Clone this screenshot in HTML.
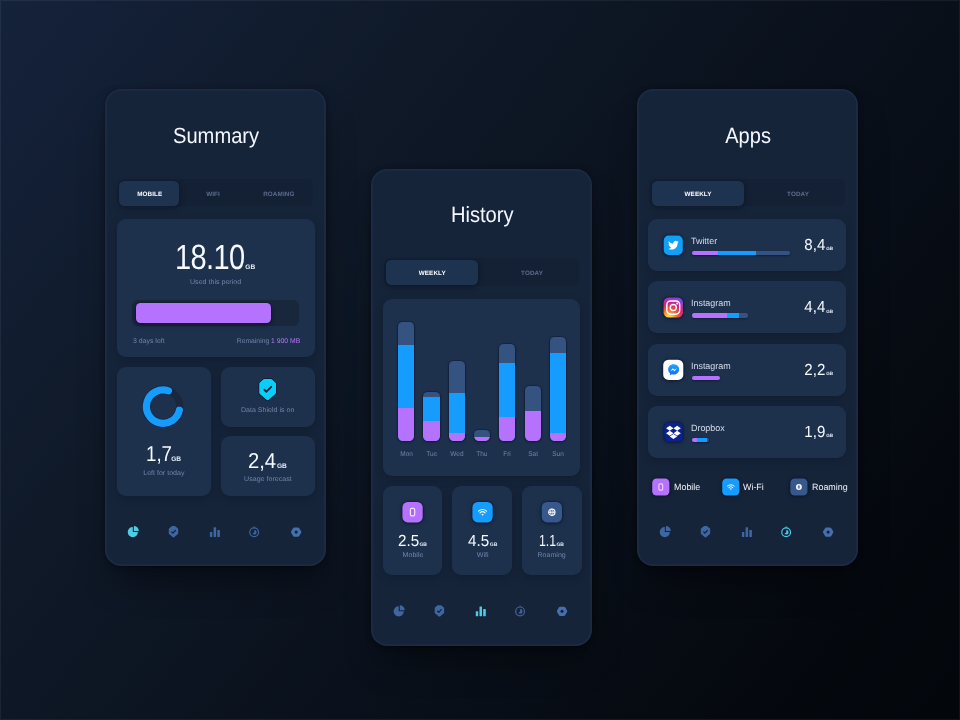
<!DOCTYPE html>
<html lang="en">
<head>
<meta charset="utf-8">
<title>Data usage</title>
<style>
*{box-sizing:border-box;margin:0;padding:0}
html,body{width:960px;height:720px;overflow:hidden}
body{position:relative;font-family:"Liberation Sans",Arial,sans-serif;color:#fff;text-rendering:geometricPrecision;
 background:linear-gradient(128deg,#15223b 0%,#0f1928 30%,#0a111c 58%,#05090f 85%,#03060b 100%)}
body::after{content:"";position:absolute;left:0;top:0;width:960px;height:720px;box-shadow:inset 0 0 0 1px rgba(255,255,255,.06);pointer-events:none}
.card{position:absolute;width:220.5px;height:477px;border-radius:16px;background:#16243a;
 box-shadow:0 1px 5px rgba(0,0,0,.4),2px 22px 34px -8px rgba(0,0,0,.42),inset 0 0 0 1.8px rgba(150,160,235,.06)}
.abs{position:absolute;overflow:visible}
.panel{position:absolute;background:#1d314d;border-radius:9px;box-shadow:0 3px 8px rgba(8,14,26,.28)}
.track{position:absolute;border-radius:6px;background:#142034}
.tab{position:absolute;border-radius:5.5px;background:#1e334f;box-shadow:0 2px 6px rgba(5,10,20,.45)}
.t{position:absolute;line-height:1;white-space:nowrap;font-weight:normal}
.sx{display:inline-block}
.title{color:#f4f7ff}
.tl{font-weight:bold;letter-spacing:.12px;padding-left:.12px;color:#5b6d8c}
.tl.on{color:#fff}
.num{color:#f6f9ff}
.gb{font-weight:bold;color:#e6ecfa}
.mut{color:#7186aa}
.pur{color:#b675f5}
.app{color:#d6ddec}
.leg{color:#f0f3fa}
.ptrack{position:absolute;border-radius:6px;background:#19273c}
.pfill{position:absolute;border-radius:4.5px;background:#b572ff;box-shadow:0 2px 5px rgba(10,8,40,.6),0 0 0 1px rgba(16,20,50,.35)}
.bar{position:absolute;border-radius:4.6px 4.6px 5.2px 5.2px;background:#345381;overflow:hidden;box-shadow:0 0 0 1px rgba(14,24,44,.38),0 1px 3px rgba(8,12,30,.45)}
.bar i{position:absolute;left:0;width:100%}
.bl{background:#169bff}.pu{background:#b572ff}.gr{background:#345381}
.mini{position:absolute;border-radius:2.2px;overflow:hidden;display:flex;box-shadow:0 1px 2px rgba(8,12,30,.5)}
.mini i{display:block;height:100%}
</style>
</head>
<body>
<section class="card" id="summary" style="left:105.4px;top:89px">
<h1 class="t title" style="top:36.02px;font-size:22px;left:-9.30px;width:240px;text-align:center;"><span class="sx" style="transform:scaleX(0.915);transform-origin:50% 50%">Summary</span></h1>
<div class="track" style="left:12.60px;top:89.90px;width:195.40px;height:27.40px;"><div class="tab" style="left:1.50px;top:2.40px;width:59.9px;height:25.2px"></div></div>
<div class="t tl on" style="top:103.02px;font-size:6.3px;left:-75.70px;width:240px;text-align:center;">MOBILE</div>
<div class="t tl" style="top:103.02px;font-size:6.3px;left:-12.40px;width:240px;text-align:center;">WIFI</div>
<div class="t tl" style="top:103.02px;font-size:6.3px;left:53.40px;width:240px;text-align:center;">ROAMING</div>
<div class="panel" style="left:11.60px;top:130.00px;width:197.80px;height:138.00px;"></div>
<div class="t num" style="top:151.02px;font-size:35px;left:69.20px;letter-spacing:-.8px;"><span class="sx" style="transform:scaleX(0.83);transform-origin:0 50%">18.10</span></div>
<div class="t gb" style="top:176.02px;font-size:6.6px;left:139.90px;">GB</div>
<div class="t mut" style="top:191.02px;font-size:6.8px;left:-9.60px;width:240px;text-align:center;"><span class="sx" style="transform:scaleX(1.04);transform-origin:50% 50%">Used this period</span></div>
<div class="ptrack" style="left:27.10px;top:211.00px;width:166.50px;height:26.30px;"></div>
<div class="pfill" style="left:30.60px;top:214.20px;width:135.00px;height:19.60px;"></div>
<div class="t mut" style="top:250.02px;font-size:6.8px;left:27.40px;"><span class="sx" style="transform:scaleX(1.02);transform-origin:0 50%">3 days left</span></div>
<div class="t mut" style="top:250.02px;font-size:6.8px;left:-45.20px;width:240px;text-align:right;">Remaining <span class="pur">1 900 MB</span></div>
<div class="panel" style="left:11.60px;top:278.00px;width:94.30px;height:129.00px;"></div>
<svg class="abs" style="left:32.60px;top:292.00px;" width="51" height="51" viewBox="0 0 51 51"><g transform="translate(0.000 0.000) scale(1.0000 1.0000)"><circle cx="25.10" cy="25.60" r="16.7" fill="none" stroke="#19283f" stroke-width="7.2"/><path d="M41.40 29.21A16.7 16.7 0 1 1 30.54 9.81" fill="none" stroke="#0e1a2f" stroke-width="8.8" stroke-linecap="round" opacity=".5"/><path d="M41.40 29.21A16.7 16.7 0 1 1 30.54 9.81" fill="none" stroke="#169bff" stroke-width="7.2" stroke-linecap="round"/></g></svg>
<div class="t num" style="top:355.02px;font-size:21.5px;left:40.60px;"><span class="sx" style="transform:scaleX(0.87);transform-origin:0 50%">1,7</span></div>
<div class="t gb" style="top:368.02px;font-size:6.6px;left:65.80px;">GB</div>
<div class="t mut" style="top:382.02px;font-size:6.8px;left:-61.80px;width:240px;text-align:center;"><span class="sx" style="transform:scaleX(1.04);transform-origin:50% 50%">Left for today</span></div>
<div class="panel" style="left:115.60px;top:278.00px;width:93.80px;height:60.00px;"></div>
<svg class="abs" style="left:151.60px;top:288.00px;" width="23" height="26" viewBox="0 0 23 26"><g transform="translate(-257.000 -377.000) scale(1.0000 1.0000)"><path d="M264.4 379H270.900Q271.600 379 272.100 379.500L275.500 382.800Q276 383.300 276 384V392.500Q276 393.400 275.400 394L268.700 399.800Q267.600 400.700 266.500 399.800L259.850 394Q259.250 393.400 259.250 392.500V384Q259.250 383.300 259.750 382.800L263.200 379.500Q263.700 379 264.4 379Z" fill="#0c1a30" stroke="#0c1a30" stroke-width="1.800" stroke-opacity=".75" stroke-linejoin="round"/><path d="M264.4 379H270.900Q271.600 379 272.100 379.500L275.500 382.800Q276 383.300 276 384V392.500Q276 393.400 275.400 394L268.700 399.800Q267.600 400.700 266.500 399.800L259.850 394Q259.250 393.400 259.250 392.500V384Q259.250 383.300 259.750 382.800L263.200 379.500Q263.700 379 264.4 379Z" fill="#06cffa"/><path fill="none" stroke="#12213a" stroke-width="1.900" stroke-linecap="round" stroke-linejoin="round" d="M264.300 389.700L266.400 391.700L271.200 386.800"/></g></svg>
<div class="t mut" style="top:319.02px;font-size:6.8px;left:41.90px;width:240px;text-align:center;"><span class="sx" style="transform:scaleX(1.04);transform-origin:50% 50%">Data Shield is on</span></div>
<div class="panel" style="left:115.60px;top:347.20px;width:93.80px;height:60.00px;"></div>
<div class="t num" style="top:362.02px;font-size:21.5px;left:142.60px;"><span class="sx" style="transform:scaleX(0.94);transform-origin:0 50%">2,4</span></div>
<div class="t gb" style="top:375.02px;font-size:6.6px;left:171.60px;">GB</div>
<div class="t mut" style="top:388.02px;font-size:6.8px;left:42.40px;width:240px;text-align:center;"><span class="sx" style="transform:scaleX(1.04);transform-origin:50% 50%">Usage forecast</span></div>
<svg class="abs" style="left:21.60px;top:436.00px;" width="14" height="14" viewBox="0 0 14 14"><g transform="translate(0.200 0.700) scale(1.0000 1.0000)"><path fill="#4fcbe4" d="M5.6 6.4V1.3A5.1 5.1 0 1 0 10.7 6.4Z"/><path fill="#4fcbe4" d="M6.7 5.3V0.4A4.9 4.9 0 0 1 11.6 5.3Z"/></g></svg>
<svg class="abs" style="left:61.60px;top:436.00px;" width="14" height="14" viewBox="0 0 14 14"><g transform="translate(0.400 0.700) scale(1.0000 1.0000)"><path fill="#3e67a1" d="M4.700 0.4H7.500Q7.900 0.4 8.200 0.7L10.500 2.700Q10.800 3 10.800 3.400V7.700Q10.800 8.100 10.500 8.400L6.700 11.500Q6.100 11.900 5.500 11.500L1.700 8.400Q1.400 8.100 1.400 7.700V3.400Q1.400 3 1.700 2.700L4 0.7Q4.300 0.4 4.700 0.4Z"/><path fill="none" stroke="#14213a" stroke-width="1.2" stroke-linecap="round" stroke-linejoin="round" d="M4.300 6.200L5.500 7.400L8 4.800"/></g></svg>
<svg class="abs" style="left:102.60px;top:436.00px;" width="14" height="14" viewBox="0 0 14 14"><g transform="translate(0.900 0.700) scale(1.0000 1.0000)"><rect fill="#3e67a1" x="1" y="6.3" width="2.4" height="5" rx=".4"/><rect fill="#3e67a1" x="4.700" y="1.600" width="2.5" height="9.700" rx=".4"/><rect fill="#3e67a1" x="8.400" y="4.200" width="2.600" height="7.100" rx=".4"/></g></svg>
<svg class="abs" style="left:142.60px;top:436.00px;" width="14" height="14" viewBox="0 0 14 14"><g transform="translate(0.100 0.700) scale(1.0000 1.0000)"><circle cx="6.05" cy="6.5" r="4.4" fill="none" stroke="#3e67a1" stroke-width="1.15"/><path fill="#3e67a1" d="M5.2 1.7L6.05 0.3L6.900 1.7Z"/><path fill="#3e67a1" d="M6.2 4.2A2.300 2.300 0 0 1 6.2 8.800A2.300 2.300 0 0 1 4.400 7.900L6.2 6.900Z"/></g></svg>
<svg class="abs" style="left:184.60px;top:436.00px;" width="14" height="14" viewBox="0 0 14 14"><g transform="translate(0.100 0.700) scale(1.0000 1.0000)"><path fill="#4670ad" stroke="#4670ad" stroke-width="2.900" stroke-linejoin="round" d="M4.200 3.200H7.900L9.800 6.400L7.900 9.600H4.200L2.300 6.400Z"/><circle cx="6.050" cy="6.400" r="1.550" fill="#14213a"/></g></svg>
</section>
<section class="card" id="history" style="left:371.3px;top:168.8px">
<h1 class="t title" style="top:35.22px;font-size:22px;left:-8.60px;width:240px;text-align:center;"><span class="sx" style="transform:scaleX(0.915);transform-origin:50% 50%">History</span></h1>
<div class="track" style="left:12.60px;top:88.80px;width:195.40px;height:28.00px;"><div class="tab" style="left:2.10px;top:2.30px;width:92.5px;height:25.5px"></div></div>
<div class="t tl on" style="top:102.22px;font-size:6.3px;left:-59.10px;width:240px;text-align:center;">WEEKLY</div>
<div class="t tl" style="top:102.22px;font-size:6.3px;left:40.70px;width:240px;text-align:center;">TODAY</div>
<div class="panel" style="left:11.70px;top:130.20px;width:197.30px;height:177.00px;"></div>
<div class="bar" style="left:27.00px;top:153.20px;width:16.10px;height:119.10px;"><i class="bl" style="top:22.90px;height:96.20px"></i><i class="pu" style="top:86.25px;height:32.85px"></i></div>
<div class="t mut" style="top:283.22px;font-size:6.8px;left:-84.90px;width:240px;text-align:center;"><span class="sx" style="transform:scaleX(0.95);transform-origin:50% 50%">Mon</span></div>
<div class="bar" style="left:52.20px;top:223.60px;width:16.10px;height:48.70px;"><i class="bl" style="top:4.35px;height:44.35px"></i><i class="pu" style="top:28.70px;height:20.00px"></i></div>
<div class="t mut" style="top:283.22px;font-size:6.8px;left:-59.70px;width:240px;text-align:center;"><span class="sx" style="transform:scaleX(0.95);transform-origin:50% 50%">Tue</span></div>
<div class="bar" style="left:77.40px;top:192.30px;width:16.10px;height:80.00px;"><i class="bl" style="top:32.15px;height:47.85px"></i><i class="pu" style="top:71.65px;height:8.35px"></i></div>
<div class="t mut" style="top:283.22px;font-size:6.8px;left:-34.50px;width:240px;text-align:center;"><span class="sx" style="transform:scaleX(0.95);transform-origin:50% 50%">Wed</span></div>
<div class="bar" style="left:102.60px;top:261.30px;width:16.10px;height:11.00px;"><i class="pu" style="top:6.90px;height:4.10px"></i></div>
<div class="t mut" style="top:283.22px;font-size:6.8px;left:-9.30px;width:240px;text-align:center;"><span class="sx" style="transform:scaleX(0.95);transform-origin:50% 50%">Thu</span></div>
<div class="bar" style="left:128.00px;top:174.80px;width:16.10px;height:97.50px;"><i class="bl" style="top:19.15px;height:78.35px"></i><i class="pu" style="top:73.15px;height:24.35px"></i></div>
<div class="t mut" style="top:283.22px;font-size:6.8px;left:16.10px;width:240px;text-align:center;"><span class="sx" style="transform:scaleX(0.95);transform-origin:50% 50%">Fri</span></div>
<div class="bar" style="left:153.30px;top:217.70px;width:16.10px;height:54.60px;"><i class="pu" style="top:24.40px;height:30.20px"></i></div>
<div class="t mut" style="top:283.22px;font-size:6.8px;left:41.40px;width:240px;text-align:center;"><span class="sx" style="transform:scaleX(0.95);transform-origin:50% 50%">Sat</span></div>
<div class="bar" style="left:178.40px;top:168.60px;width:16.10px;height:103.70px;"><i class="bl" style="top:15.85px;height:87.85px"></i><i class="pu" style="top:95.35px;height:8.35px"></i></div>
<div class="t mut" style="top:283.22px;font-size:6.8px;left:66.50px;width:240px;text-align:center;"><span class="sx" style="transform:scaleX(0.95);transform-origin:50% 50%">Sun</span></div>
<div class="panel" style="left:11.50px;top:317.00px;width:59.60px;height:89.30px;"></div>
<svg class="abs" style="left:30.70px;top:333.20px;filter:drop-shadow(0 0 1px rgba(6,10,30,.8)) drop-shadow(0 1px 2px rgba(8,14,28,.4))" width="22" height="22" viewBox="0 0 22 22"><g transform="translate(0.400 0.000) scale(1.0150 1.0200)"><rect width="20" height="20" rx="5.3" fill="#b572ff"/><rect x="7.9" y="6.3" width="4.2" height="7.2" rx="1.2" fill="#9a5cf0" fill-opacity=".5" stroke="#f6dcff" stroke-width="1.25"/></g></svg>
<div class="t num" style="top:365.22px;font-size:16px;left:26.30px;"><span class="sx" style="transform:scaleX(0.95);transform-origin:0 50%">2.5</span></div>
<div class="t gb" style="top:374.22px;font-size:5.0px;left:48.10px;">GB</div>
<div class="t mut" style="top:384.22px;font-size:6.8px;left:-78.70px;width:240px;text-align:center;"><span class="sx" style="transform:scaleX(1.04);transform-origin:50% 50%">Mobile</span></div>
<div class="panel" style="left:81.10px;top:317.00px;width:59.60px;height:89.30px;"></div>
<svg class="abs" style="left:100.70px;top:333.20px;filter:drop-shadow(0 0 1px rgba(6,10,30,.8)) drop-shadow(0 1px 2px rgba(8,14,28,.4))" width="22" height="22" viewBox="0 0 22 22"><g transform="translate(0.400 0.000) scale(1.0150 1.0200)"><rect width="20" height="20" rx="5.3" fill="#169bff"/><path d="M6.1 8.9A5.6 5.6 0 0 1 13.9 8.9M7.5 10.6A3.6 3.6 0 0 1 12.5 10.6" fill="none" stroke="#fff" stroke-width="1.1" stroke-linecap="round"/><path d="M8.8 12.1A1.7 1.7 0 0 1 11.2 12.1L10 13.6Z" fill="#fff"/></g></svg>
<div class="t num" style="top:365.22px;font-size:16px;left:96.90px;"><span class="sx" style="transform:scaleX(0.95);transform-origin:0 50%">4.5</span></div>
<div class="t gb" style="top:374.22px;font-size:5.0px;left:118.50px;">GB</div>
<div class="t mut" style="top:384.22px;font-size:6.8px;left:-9.10px;width:240px;text-align:center;"><span class="sx" style="transform:scaleX(1.04);transform-origin:50% 50%">Wifi</span></div>
<div class="panel" style="left:150.70px;top:317.00px;width:59.60px;height:89.30px;"></div>
<svg class="abs" style="left:169.70px;top:333.20px;filter:drop-shadow(0 0 1px rgba(6,10,30,.8)) drop-shadow(0 1px 2px rgba(8,14,28,.4))" width="23" height="22" viewBox="0 0 23 22"><g transform="translate(0.700 0.000) scale(1.0150 1.0200)"><rect width="20" height="20" rx="5.3" fill="#36588c"/><circle cx="10" cy="10" r="3.1" fill="none" stroke="#fff" stroke-width="1.1"/><path d="M6.9 10H13.1" stroke="#fff" stroke-width="1" fill="none"/><ellipse cx="10" cy="10" rx="1.2" ry="3.1" fill="none" stroke="#fff" stroke-width=".8"/></g></svg>
<div class="t num" style="top:365.22px;font-size:16px;left:167.70px;"><span class="sx" style="transform:scaleX(0.77);transform-origin:0 50%">1.1</span></div>
<div class="t gb" style="top:374.22px;font-size:5.0px;left:185.20px;">GB</div>
<div class="t mut" style="top:384.22px;font-size:6.8px;left:60.50px;width:240px;text-align:center;"><span class="sx" style="transform:scaleX(1.04);transform-origin:50% 50%">Roaming</span></div>
<svg class="abs" style="left:21.70px;top:435.20px;" width="14" height="14" viewBox="0 0 14 14"><g transform="translate(0.100 0.900) scale(1.0000 1.0000)"><path fill="#3e67a1" d="M5.6 6.4V1.3A5.1 5.1 0 1 0 10.7 6.4Z"/><path fill="#3e67a1" d="M6.7 5.3V0.4A4.9 4.9 0 0 1 11.6 5.3Z"/></g></svg>
<svg class="abs" style="left:61.70px;top:435.20px;" width="14" height="14" viewBox="0 0 14 14"><g transform="translate(0.300 0.900) scale(1.0000 1.0000)"><path fill="#3e67a1" d="M4.700 0.4H7.500Q7.900 0.4 8.200 0.7L10.500 2.700Q10.800 3 10.800 3.400V7.700Q10.800 8.100 10.500 8.400L6.700 11.500Q6.100 11.900 5.500 11.500L1.700 8.400Q1.400 8.100 1.400 7.700V3.400Q1.400 3 1.700 2.700L4 0.7Q4.300 0.4 4.700 0.4Z"/><path fill="none" stroke="#14213a" stroke-width="1.2" stroke-linecap="round" stroke-linejoin="round" d="M4.300 6.200L5.500 7.400L8 4.800"/></g></svg>
<svg class="abs" style="left:102.70px;top:435.20px;" width="14" height="14" viewBox="0 0 14 14"><g transform="translate(0.800 0.900) scale(1.0000 1.0000)"><rect fill="#4fcbe4" x="1" y="6.3" width="2.4" height="5" rx=".4"/><rect fill="#4fcbe4" x="4.700" y="1.600" width="2.5" height="9.700" rx=".4"/><rect fill="#4fcbe4" x="8.400" y="4.200" width="2.600" height="7.100" rx=".4"/></g></svg>
<svg class="abs" style="left:142.70px;top:435.20px;" width="13" height="14" viewBox="0 0 13 14"><g transform="translate(0.000 0.900) scale(1.0000 1.0000)"><circle cx="6.05" cy="6.5" r="4.4" fill="none" stroke="#3e67a1" stroke-width="1.15"/><path fill="#3e67a1" d="M5.2 1.7L6.05 0.3L6.900 1.7Z"/><path fill="#3e67a1" d="M6.2 4.2A2.300 2.300 0 0 1 6.2 8.800A2.300 2.300 0 0 1 4.400 7.900L6.2 6.900Z"/></g></svg>
<svg class="abs" style="left:184.70px;top:435.20px;" width="13" height="14" viewBox="0 0 13 14"><g transform="translate(0.000 0.900) scale(1.0000 1.0000)"><path fill="#4670ad" stroke="#4670ad" stroke-width="2.900" stroke-linejoin="round" d="M4.200 3.200H7.900L9.800 6.400L7.900 9.600H4.200L2.300 6.400Z"/><circle cx="6.050" cy="6.400" r="1.550" fill="#14213a"/></g></svg>
</section>
<section class="card" id="apps" style="left:637.4px;top:89px">
<h1 class="t title" style="top:36.02px;font-size:22px;left:-9.70px;width:240px;text-align:center;"><span class="sx" style="transform:scaleX(0.91);transform-origin:50% 50%">Apps</span></h1>
<div class="track" style="left:12.60px;top:89.80px;width:195.40px;height:27.40px;"><div class="tab" style="left:2.00px;top:2.40px;width:92.2px;height:24.7px"></div></div>
<div class="t tl on" style="top:103.02px;font-size:6.3px;left:-59.40px;width:240px;text-align:center;">WEEKLY</div>
<div class="t tl" style="top:103.02px;font-size:6.3px;left:40.60px;width:240px;text-align:center;">TODAY</div>
<div class="panel" style="left:10.80px;top:130.00px;width:197.80px;height:52.00px;"></div>
<svg class="abs" style="left:25.60px;top:146.00px;filter:drop-shadow(0 0 1px rgba(6,10,30,.8)) drop-shadow(0 1px 2px rgba(8,14,28,.4))" width="21" height="22" viewBox="0 0 21 22"><g transform="translate(0.700 0.400) scale(0.9550 0.9800)"><rect width="20" height="20" rx="5.2" fill="#10a0f8"/><path fill="#fff" d="M15.6 6.6c-.4.2-.8.3-1.3.4.5-.3.8-.7 1-1.2-.4.3-.9.4-1.4.5a2.300 2.300 0 0 0-3.900 2.100c-1.900-.1-3.500-1-4.600-2.400-.6 1-.3 2.300.7 3-.4 0-.7-.1-1-.3 0 1.100.8 2 1.800 2.200-.3.100-.7.100-1 0 .3.900 1.100 1.600 2.100 1.600-1 .8-2.100 1.100-3.300 1 1 .6 2.200 1 3.500 1 4.200 0 6.600-3.600 6.400-6.800.4-.3.800-.7 1-1.100z"/></g></svg>
<div class="t app" style="top:148.02px;font-size:9.1px;left:54.00px;"><span class="sx" style="transform:scaleX(0.98);transform-origin:0 50%">Twitter</span></div>
<div class="mini" style="left:54.50px;top:161.90px;width:98.35px;height:4.60px;"><i class="pu" style="width:25.85px"></i><i class="bl" style="width:38.75px"></i><i class="gr" style="width:33.75px"></i></div>
<div class="t num" style="top:149.02px;font-size:16px;left:-52.60px;width:240px;text-align:right;"><span class="sx" style="transform:scaleX(0.94);transform-origin:100% 50%">8,4</span></div>
<div class="t gb" style="top:158.02px;font-size:4.6px;left:188.80px;">GB</div>
<div class="panel" style="left:10.80px;top:192.40px;width:197.80px;height:52.00px;"></div>
<svg class="abs" style="left:25.60px;top:208.00px;filter:drop-shadow(0 0 1px rgba(6,10,30,.8)) drop-shadow(0 1px 2px rgba(8,14,28,.4))" width="21" height="22" viewBox="0 0 21 22"><g transform="translate(0.500 0.500) scale(0.9750 1.0050)"><defs><radialGradient id="igg" cx=".28" cy="1.05" r="1.25"><stop offset="0" stop-color="#ffdd55"/><stop offset=".12" stop-color="#ffd24d"/><stop offset=".36" stop-color="#f4602c"/><stop offset=".58" stop-color="#d62478"/><stop offset=".8" stop-color="#9a3bc8"/><stop offset="1" stop-color="#5a55e0"/></radialGradient></defs><rect width="20" height="20" rx="5.4" fill="url(#igg)"/><rect x="3.4" y="3.4" width="13.2" height="13.2" rx="3.8" fill="none" stroke="#fff" stroke-width="1.5"/><circle cx="10" cy="10" r="3.1" fill="none" stroke="#fff" stroke-width="1.4"/><circle cx="14" cy="6" r=".95" fill="#fff"/></g></svg>
<div class="t app" style="top:210.02px;font-size:9.1px;left:54.00px;"><span class="sx" style="transform:scaleX(0.98);transform-origin:0 50%">Instagram</span></div>
<div class="mini" style="left:54.50px;top:224.30px;width:56.10px;height:4.60px;"><i class="pu" style="width:35.60px"></i><i class="bl" style="width:11.25px"></i><i class="gr" style="width:9.25px"></i></div>
<div class="t num" style="top:211.02px;font-size:16px;left:-52.60px;width:240px;text-align:right;"><span class="sx" style="transform:scaleX(0.94);transform-origin:100% 50%">4,4</span></div>
<div class="t gb" style="top:221.02px;font-size:4.6px;left:188.80px;">GB</div>
<div class="panel" style="left:10.80px;top:254.70px;width:197.80px;height:52.00px;"></div>
<svg class="abs" style="left:25.60px;top:270.00px;filter:drop-shadow(0 0 1px rgba(6,10,30,.8)) drop-shadow(0 1px 2px rgba(8,14,28,.4))" width="22" height="22" viewBox="0 0 22 22"><g transform="translate(0.200 0.700) scale(1.0050 1.0100)"><defs><linearGradient id="msg" x1="0" y1="0" x2="0" y2="1"><stop offset="0" stop-color="#1aa8ff"/><stop offset="1" stop-color="#1668f6"/></linearGradient></defs><rect width="20" height="20" rx="5.2" fill="#fff"/><path fill="url(#msg)" d="M10.4 4.6c-3.100 0-5.500 2.200-5.500 5 0 1.500.7 2.900 1.900 3.800v2.100l1.900-1.100c.5.100 1.100.2 1.700.2 3.100 0 5.500-2.200 5.500-5s-2.400-5-5.500-5z"/><path fill="#fff" d="M6.900 11.400l2.700-2.900 1.500 1.400 2.800-1.400-2.700 2.900-1.500-1.400z"/></g></svg>
<div class="t app" style="top:273.02px;font-size:9.1px;left:54.00px;"><span class="sx" style="transform:scaleX(0.98);transform-origin:0 50%">Instagram</span></div>
<div class="mini" style="left:54.50px;top:286.60px;width:28.10px;height:4.60px;"><i class="pu" style="width:28.10px"></i></div>
<div class="t num" style="top:274.02px;font-size:16px;left:-52.60px;width:240px;text-align:right;"><span class="sx" style="transform:scaleX(0.94);transform-origin:100% 50%">2,2</span></div>
<div class="t gb" style="top:283.02px;font-size:4.6px;left:188.80px;">GB</div>
<div class="panel" style="left:10.80px;top:317.00px;width:197.80px;height:52.00px;"></div>
<svg class="abs" style="left:26.60px;top:333.00px;filter:drop-shadow(0 0 1px rgba(6,10,30,.8)) drop-shadow(0 1px 2px rgba(8,14,28,.4))" width="20" height="21" viewBox="0 0 20 21"><g transform="translate(0.200 0.500) scale(0.9250 0.9600)"><rect width="20" height="20" rx="5" fill="#0b2190"/><g transform="translate(10 10.3) scale(1.25 1.22) translate(-10 -10.4)"><path fill="#fff" d="M6.800 4.800L3.600 6.900l3.200 2.100L10 6.900zM13.200 4.800L10 6.900l3.200 2.100 3.200-2.100zM3.600 11.100l3.200 2.100 3.200-2.100-3.200-2.100zM13.200 9L10 11.100l3.200 2.100 3.200-2.100zM6.800 13.900l3.200 2.100 3.200-2.100-3.200-2.100z"/></g></g></svg>
<div class="t app" style="top:335.02px;font-size:9.1px;left:54.00px;"><span class="sx" style="transform:scaleX(0.98);transform-origin:0 50%">Dropbox</span></div>
<div class="mini" style="left:54.50px;top:348.90px;width:17.10px;height:4.60px;"><i class="pu" style="width:5.60px"></i><i class="bl" style="width:10.00px"></i><i class="gr" style="width:1.50px"></i></div>
<div class="t num" style="top:336.02px;font-size:16px;left:-52.60px;width:240px;text-align:right;"><span class="sx" style="transform:scaleX(0.94);transform-origin:100% 50%">1,9</span></div>
<div class="t gb" style="top:345.02px;font-size:4.6px;left:188.80px;">GB</div>
<svg class="abs" style="left:14.60px;top:389.00px;filter:drop-shadow(0 0 1px rgba(6,10,30,.8)) drop-shadow(0 1px 2px rgba(8,14,28,.4))" width="19" height="19" viewBox="0 0 19 19"><g transform="translate(0.200 0.400) scale(0.8600 0.8600)"><rect width="20" height="20" rx="5" fill="#b572ff"/><rect x="7.8" y="6.4" width="4.4" height="7.2" rx="1.3" fill="#9a5cf0" fill-opacity=".4" stroke="#f3d4ff" stroke-width="1.25"/></g></svg>
<div class="t leg" style="top:394.02px;font-size:9.1px;left:36.60px;"><span class="sx" style="transform:scaleX(0.98);transform-origin:0 50%">Mobile</span></div>
<svg class="abs" style="left:84.60px;top:389.00px;filter:drop-shadow(0 0 1px rgba(6,10,30,.8)) drop-shadow(0 1px 2px rgba(8,14,28,.4))" width="19" height="19" viewBox="0 0 19 19"><g transform="translate(0.200 0.400) scale(0.8600 0.8600)"><rect width="20" height="20" rx="5" fill="#169bff"/><path d="M6.1 8.9A5.6 5.6 0 0 1 13.9 8.9M7.5 10.6A3.6 3.6 0 0 1 12.5 10.6" fill="none" stroke="#fff" stroke-width="1.1" stroke-linecap="round"/><path d="M8.8 12.1A1.7 1.7 0 0 1 11.2 12.1L10 13.6Z" fill="#fff"/></g></svg>
<div class="t leg" style="top:394.02px;font-size:9.1px;left:106.00px;"><span class="sx" style="transform:scaleX(0.98);transform-origin:0 50%">Wi-Fi</span></div>
<svg class="abs" style="left:152.60px;top:389.00px;filter:drop-shadow(0 0 1px rgba(6,10,30,.8)) drop-shadow(0 1px 2px rgba(8,14,28,.4))" width="19" height="19" viewBox="0 0 19 19"><g transform="translate(0.300 0.400) scale(0.8600 0.8600)"><rect width="20" height="20" rx="5" fill="#36588c"/><circle cx="10" cy="10" r="3.4" fill="#fff"/><path d="M10 7.600v4.800M8.400 10h3.200" stroke="#36588c" stroke-width="1" fill="none"/></g></svg>
<div class="t leg" style="top:394.02px;font-size:9.1px;left:174.70px;"><span class="sx" style="transform:scaleX(0.98);transform-origin:0 50%">Roaming</span></div>
<svg class="abs" style="left:21.60px;top:436.00px;" width="14" height="14" viewBox="0 0 14 14"><g transform="translate(0.200 0.700) scale(1.0000 1.0000)"><path fill="#3e67a1" d="M5.6 6.4V1.3A5.1 5.1 0 1 0 10.7 6.4Z"/><path fill="#3e67a1" d="M6.7 5.3V0.4A4.9 4.9 0 0 1 11.6 5.3Z"/></g></svg>
<svg class="abs" style="left:61.60px;top:436.00px;" width="14" height="14" viewBox="0 0 14 14"><g transform="translate(0.400 0.700) scale(1.0000 1.0000)"><path fill="#3e67a1" d="M4.700 0.4H7.500Q7.900 0.4 8.200 0.7L10.500 2.700Q10.800 3 10.800 3.400V7.700Q10.800 8.100 10.500 8.400L6.700 11.500Q6.100 11.900 5.500 11.500L1.700 8.400Q1.400 8.100 1.400 7.700V3.400Q1.400 3 1.700 2.700L4 0.7Q4.300 0.4 4.700 0.4Z"/><path fill="none" stroke="#14213a" stroke-width="1.2" stroke-linecap="round" stroke-linejoin="round" d="M4.300 6.200L5.500 7.400L8 4.800"/></g></svg>
<svg class="abs" style="left:102.60px;top:436.00px;" width="14" height="14" viewBox="0 0 14 14"><g transform="translate(0.900 0.700) scale(1.0000 1.0000)"><rect fill="#3e67a1" x="1" y="6.3" width="2.4" height="5" rx=".4"/><rect fill="#3e67a1" x="4.700" y="1.600" width="2.5" height="9.700" rx=".4"/><rect fill="#3e67a1" x="8.400" y="4.200" width="2.600" height="7.100" rx=".4"/></g></svg>
<svg class="abs" style="left:142.60px;top:436.00px;" width="14" height="14" viewBox="0 0 14 14"><g transform="translate(0.100 0.700) scale(1.0000 1.0000)"><circle cx="6.05" cy="6.5" r="4.4" fill="none" stroke="#4fcbe4" stroke-width="1.15"/><path fill="#4fcbe4" d="M5.2 1.7L6.05 0.3L6.900 1.7Z"/><path fill="#4fcbe4" d="M6.2 4.2A2.300 2.300 0 0 1 6.2 8.800A2.300 2.300 0 0 1 4.400 7.900L6.2 6.900Z"/></g></svg>
<svg class="abs" style="left:184.60px;top:436.00px;" width="14" height="14" viewBox="0 0 14 14"><g transform="translate(0.100 0.700) scale(1.0000 1.0000)"><path fill="#4670ad" stroke="#4670ad" stroke-width="2.900" stroke-linejoin="round" d="M4.200 3.200H7.900L9.800 6.400L7.900 9.600H4.200L2.300 6.400Z"/><circle cx="6.050" cy="6.400" r="1.550" fill="#14213a"/></g></svg>
</section>
</body>
</html>
